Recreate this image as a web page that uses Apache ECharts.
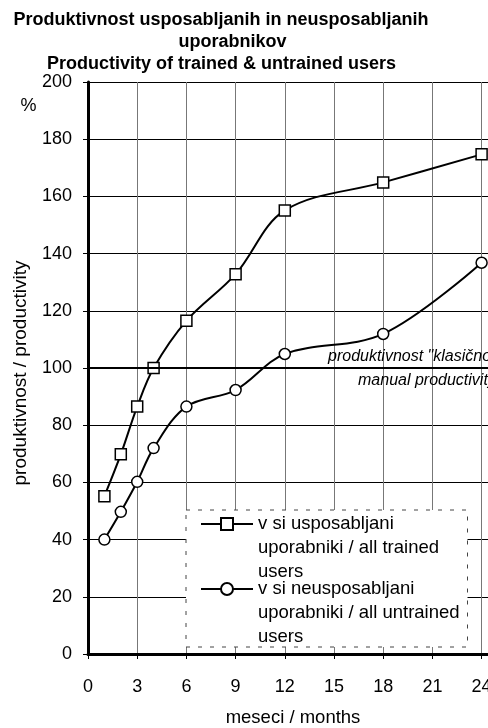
<!DOCTYPE html>
<html>
<head>
<meta charset="utf-8">
<script src="https://cdn.jsdelivr.net/npm/echarts@6/dist/echarts.min.js"></script>
<style>html,body{margin:0;padding:0;background:#fff}#c{width:488px;height:728px}</style>
</head>
<body>
<div id="c"></div>
<script>
var months = [1, 2, 3, 4, 6, 9, 12, 18, 24];
var trained = [55.2, 69.8, 86.5, 100, 116.5, 132.8, 155.1, 164.9, 174.7];
var untrained = [40, 49.7, 60.2, 72, 86.5, 92.3, 104.9, 111.9, 136.8];
var baseline = 100;
var trainedName = 'v si usposabljani\nuporabniki / all trained\nusers';
var untrainedName = 'v si neusposabljani\nuporabniki / all untrained\nusers';
var titleLines = ['Produktivnost usposabljanih in neusposabljanih', 'uporabnikov', 'Productivity of trained & untrained users'];
var noteLines = ['produktivnost "klasično" delo', 'manual productivity'];

var FONT = 'Arial, "Liberation Sans", sans-serif';
function pairs(xs, ys) { return xs.map(function (x, i) { return [x, ys[i]]; }); }

var chart = echarts.init(document.getElementById('c'), null, { renderer: 'canvas' });
var legendText = { fontFamily: FONT, fontSize: 18.5, lineHeight: 24, color: '#000' };
function legendFmt(n) { return ' \n \n' + n; }

chart.setOption({
  animation: false,
  backgroundColor: '#fff',
  grid: { left: 88, width: 410, top: 82, bottom: 74, outerBoundsMode: 'none', containLabel: false },
  xAxis: {
    type: 'value', min: 0, max: 25, interval: 3,
    name: 'meseci / months', nameLocation: 'middle', nameGap: 54,
    nameTextStyle: { fontFamily: FONT, fontSize: 18.5, color: '#000' },
    axisLine: { lineStyle: { color: '#000', width: 3 } },
    axisTick: { length: 5, lineStyle: { color: '#000', width: 1 } },
    axisLabel: { fontFamily: FONT, fontSize: 18, color: '#000', margin: 24, showMaxLabel: false },
    splitLine: { show: true, lineStyle: { color: '#777', width: 1 } }
  },
  yAxis: {
    type: 'value', min: 0, max: 200, interval: 20,
    name: 'produktivnost / productivity', nameLocation: 'middle', nameGap: 58,
    nameTextStyle: { fontFamily: FONT, fontSize: 19, color: '#000', padding: [0, 10, 0, 0] },
    axisLine: { show: true, lineStyle: { color: '#000', width: 3 } },
    axisTick: { show: true, length: 5, lineStyle: { color: '#000', width: 1 } },
    axisLabel: { fontFamily: FONT, fontSize: 18, color: '#000', margin: 16 },
    splitLine: { show: true, lineStyle: { color: '#000', width: 1 } }
  },
  legend: [
    { data: [trainedName], left: 200, top: 464, padding: 0, orient: 'vertical', itemWidth: 52, itemHeight: 15,
      selectedMode: false, textStyle: legendText, formatter: legendFmt, z: 10 },
    { data: [untrainedName], left: 200, top: 529, padding: 0, orient: 'vertical', itemWidth: 52, itemHeight: 15,
      selectedMode: false, textStyle: legendText, formatter: legendFmt, z: 10 }
  ],
  graphic: [
    { type: 'rect', z: 5, shape: { x: 186, y: 510, width: 281.5, height: 137 },
      style: { fill: '#fff', stroke: '#444', lineWidth: 1, lineDash: [4, 8] } },
    { type: 'text', x: 221, y: 20.5, z: 10, style: { text: titleLines[0], font: 'bold 18px ' + FONT, fill: '#000', align: 'center', verticalAlign: 'middle' } },
    { type: 'text', x: 232.5, y: 42.5, z: 10, style: { text: titleLines[1], font: 'bold 18px ' + FONT, fill: '#000', align: 'center', verticalAlign: 'middle' } },
    { type: 'text', x: 221.5, y: 64.5, z: 10, style: { text: titleLines[2], font: 'bold 18px ' + FONT, fill: '#000', align: 'center', verticalAlign: 'middle' } },
    { type: 'text', x: 28.5, y: 106, z: 10, style: { text: '%', font: '18px ' + FONT, fill: '#000', align: 'center', verticalAlign: 'middle' } },
    { type: 'text', x: 328, y: 357, z: 10, style: { text: noteLines[0], font: 'italic 16px ' + FONT, fill: '#000', align: 'left', verticalAlign: 'middle' } },
    { type: 'text', x: 358, y: 380.5, z: 10, style: { text: noteLines[1], font: 'italic 16px ' + FONT, fill: '#000', align: 'left', verticalAlign: 'middle' } }
  ],
  series: [
    {
      name: trainedName, type: 'line', data: pairs(months, trained), smooth: 0.35,
      symbol: 'rect', symbolSize: 11,
      lineStyle: { color: '#000', width: 2 },
      itemStyle: { color: '#fff', borderColor: '#000', borderWidth: 1.5 },
      z: 3,
      markLine: {
        silent: true, symbol: 'none', label: { show: false },
        lineStyle: { color: '#000', width: 2, type: 'solid' },
        data: [{ yAxis: baseline }]
      }
    },
    {
      name: untrainedName, type: 'line', data: pairs(months, untrained), smooth: 0.35,
      symbol: 'circle', symbolSize: 11,
      lineStyle: { color: '#000', width: 2 },
      itemStyle: { color: '#fff', borderColor: '#000', borderWidth: 1.5 },
      z: 3
    }
  ]
});
</script>
</body>
</html>
